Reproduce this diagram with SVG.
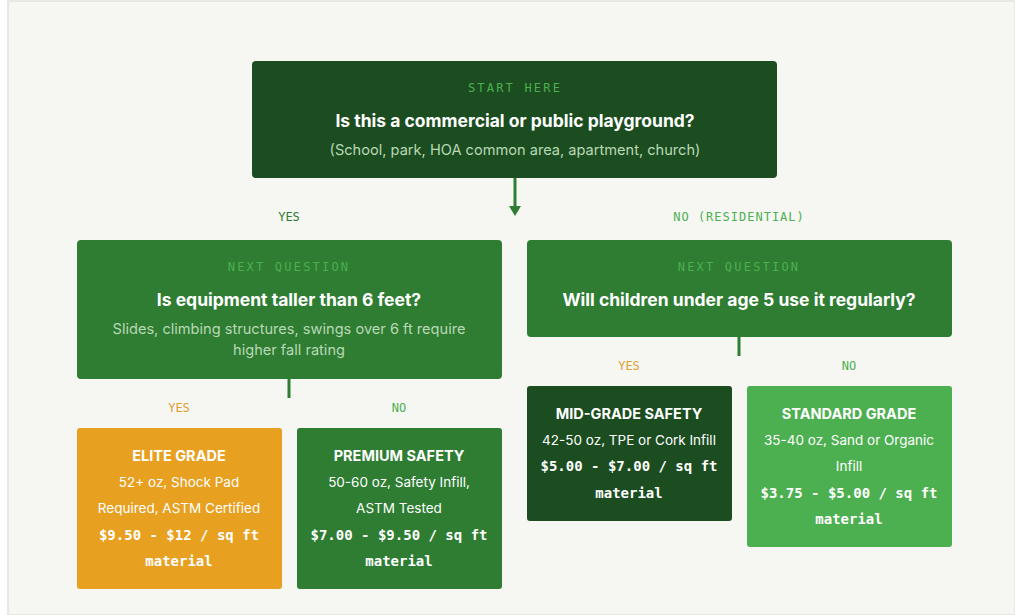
<svg xmlns="http://www.w3.org/2000/svg" width="1015" height="615" viewBox="0 0 1015 615">
<style>
.bg{fill:#f6f7f3}
.tag{font-family:"DejaVu Sans Mono",monospace;font-size:12px;letter-spacing:2.2px;text-anchor:middle}
.q{font-family:Inter,"Noto Sans",sans-serif;font-size:17.5px;font-weight:700;fill:#fff;text-anchor:middle}
.sub{font-family:Inter,"Noto Sans",sans-serif;font-size:14.6px;fill:#b9d8b5;text-anchor:middle}
.lbl{font-family:"DejaVu Sans Mono",monospace;font-size:12px;text-anchor:middle}
.h{font-family:Inter,"Noto Sans",sans-serif;font-size:14.5px;font-weight:700;fill:#fff;text-anchor:middle}
.d{font-family:Inter,"Noto Sans",sans-serif;font-size:13.5px;fill:#fff;text-anchor:middle}
.p{font-family:"DejaVu Sans Mono",monospace;font-size:14px;font-weight:700;fill:#fff;text-anchor:middle}
</style>
<rect class="bg" x="8" y="1" width="1007" height="614" stroke="#e2e3df" stroke-width="1.5"/>
<g id="connectors" stroke="#2e7d32" stroke-width="3" fill="none">
<line x1="515" y1="178" x2="515" y2="206"/>
<path d="M509,206 L521,206 L515,216z" fill="#2e7d32" stroke="none"/>
<line x1="289" y1="379" x2="289" y2="398"/>
<line x1="739" y1="337" x2="739" y2="356"/>
<text class="lbl" x="289" y="221" fill="#2e7d32" stroke="none">YES</text>
<text class="lbl" x="739" y="221" fill="#4caf50" stroke="none" letter-spacing="1">NO (RESIDENTIAL)</text>
<text class="lbl" x="179" y="412" fill="#e0a030" stroke="none">YES</text>
<text class="lbl" x="399" y="412" fill="#4caf50" stroke="none">NO</text>
<text class="lbl" x="629" y="370" fill="#e0a030" stroke="none">YES</text>
<text class="lbl" x="849" y="370" fill="#4caf50" stroke="none">NO</text>
</g>
<g id="start">
<rect x="252" y="61" width="525" height="117" rx="4" fill="#1b4d20"/>
<text class="tag" x="515" y="92" fill="#4caf50">START HERE</text>
<text class="q" x="515" y="127">Is this a commercial or public playground?</text>
<text class="sub" x="515" y="155">(School, park, HOA common area, apartment, church)</text>
</g>
<g id="q-height">
<rect x="77" y="240" width="425" height="139" rx="4" fill="#2e7d32"/>
<text class="tag" x="289" y="271" fill="#4caf50">NEXT QUESTION</text>
<text class="q" x="289" y="306">Is equipment taller than 6 feet?</text>
<text class="sub" x="289" y="334">Slides, climbing structures, swings over 6 ft require</text>
<text class="sub" x="289" y="355">higher fall rating</text>
</g>
<g id="q-age">
<rect x="527" y="240" width="425" height="97" rx="4" fill="#2e7d32"/>
<text class="tag" x="739" y="271" fill="#4caf50">NEXT QUESTION</text>
<text class="q" x="739" y="306">Will children under age 5 use it regularly?</text>
</g>
<g id="elite">
<rect x="77" y="428" width="205" height="161" rx="3" fill="#e8a020"/>
<text class="h" x="179" y="461">ELITE GRADE</text>
<text class="d" x="179" y="487">52+ oz, Shock Pad</text>
<text class="d" x="179" y="513">Required, ASTM Certified</text>
<text class="p" x="179" y="540">$9.50 - $12 / sq ft</text>
<text class="p" x="179" y="566">material</text>
</g>
<g id="premium">
<rect x="297" y="428" width="205" height="161" rx="3" fill="#2e7d32"/>
<text class="h" x="399" y="461">PREMIUM SAFETY</text>
<text class="d" x="399" y="487">50-60 oz, Safety Infill,</text>
<text class="d" x="399" y="513">ASTM Tested</text>
<text class="p" x="399" y="540">$7.00 - $9.50 / sq ft</text>
<text class="p" x="399" y="566">material</text>
</g>
<g id="mid">
<rect x="527" y="386" width="205" height="135" rx="3" fill="#1b4d20"/>
<text class="h" x="629" y="419">MID-GRADE SAFETY</text>
<text class="d" x="629" y="445">42-50 oz, TPE or Cork Infill</text>
<text class="p" x="629" y="471">$5.00 - $7.00 / sq ft</text>
<text class="p" x="629" y="498">material</text>
</g>
<g id="standard">
<rect x="747" y="386" width="205" height="161" rx="3" fill="#4caf50"/>
<text class="h" x="849" y="419">STANDARD GRADE</text>
<text class="d" x="849" y="445">35-40 oz, Sand or Organic</text>
<text class="d" x="849" y="471">Infill</text>
<text class="p" x="849" y="498">$3.75 - $5.00 / sq ft</text>
<text class="p" x="849" y="524">material</text>
</g>
</svg>
